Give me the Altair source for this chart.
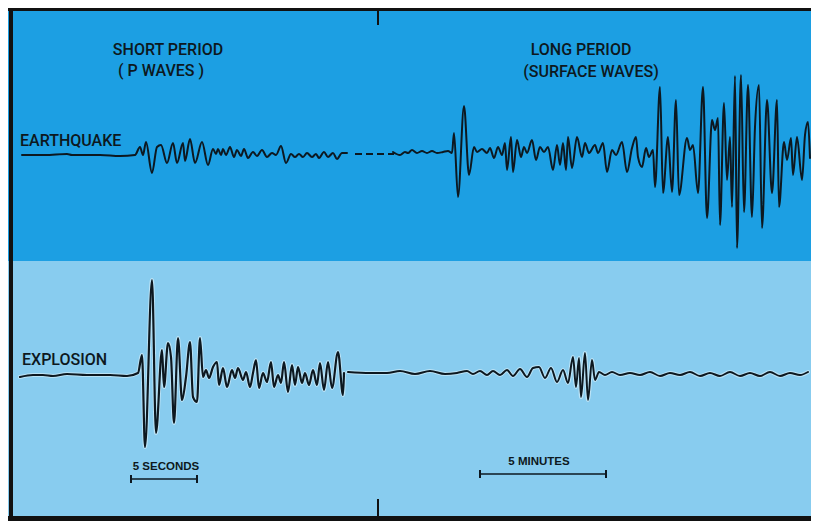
import altair as alt
import pandas as pd

TOP_BLUE = "#1c9fe3"
LOW_BLUE = "#88ccef"
INK = "#0d1820"

eq_short_x = [22, 45, 67, 72, 100, 120, 135, 140, 143, 146, 152, 157, 161, 167, 173, 177, 183,
              185, 190, 195, 202, 208, 213, 216, 218, 221, 223, 226, 230, 234, 237, 241, 244, 248,
              253, 257, 262, 267, 272, 276, 281, 286, 291, 295, 299, 303, 307, 312, 316, 319, 324,
              328, 333, 337, 342, 347]
eq_short_y = [155, 155, 154, 155, 155, 156, 155, 147, 155, 142, 173, 147, 145, 163, 143, 163, 143,
              161, 139, 163, 142, 165, 149, 154, 149, 155, 149, 155, 147, 157, 150, 156, 149, 158,
              152, 156, 150, 157, 153, 155, 146, 163, 154, 157, 154, 157, 153, 157, 154, 158, 152,
              157, 153, 159, 153, 153]

eq_gap_x = [355, 394]
eq_gap_y = [154, 154]

eq_long_x = [393, 400, 405, 408, 412, 417, 422, 427, 432, 437, 443, 448, 452, 454, 458, 464, 469,
             474, 477, 482, 487, 490, 494, 498, 502, 505, 507, 511, 513, 517, 521, 524, 527, 532,
             536, 540, 544, 548, 553, 557, 560, 563, 566, 568, 572, 577, 582, 585, 589, 595, 598,
             603, 607, 612, 616, 622, 627, 632, 636, 638, 642, 646, 649, 653, 655, 660, 663, 668,
             672, 676, 679, 687, 690, 693, 698, 703, 707, 712, 715, 718, 720, 724, 727, 730, 732,
             735, 737, 741, 744, 748, 752, 755, 759, 762, 767, 772, 777, 779, 784, 787, 791, 793,
             797, 802, 805, 808, 810]
eq_long_y = [152, 155, 152, 153, 150, 153, 151, 153, 151, 153, 152, 151, 153, 133, 197, 106, 175,
             147, 152, 149, 153, 148, 158, 147, 155, 143, 170, 137, 172, 140, 157, 147, 153, 140,
             160, 147, 152, 147, 170, 145, 165, 143, 170, 137, 168, 137, 157, 143, 153, 145, 153,
             143, 172, 150, 155, 142, 172, 148, 137, 157, 167, 148, 157, 150, 187, 87, 193, 137,
             192, 100, 195, 138, 150, 145, 193, 87, 218, 120, 130, 118, 225, 103, 180, 137, 207,
             76, 248, 75, 212, 85, 217, 127, 85, 228, 100, 193, 100, 207, 142, 160, 138, 175,
             137, 180, 135, 122, 158]

ex_short_x = [20, 33, 43, 53, 67, 87, 110, 127, 138, 142, 145, 152, 156, 162, 164, 168, 171, 174,
              178, 182, 186, 190, 193, 197, 200, 203, 206, 209, 213, 217, 219, 223, 227, 232, 235,
              238, 243, 246, 250, 253, 256, 259, 263, 267, 271, 274, 278, 281, 284, 288, 292, 295,
              298, 302, 305, 309, 313, 317, 320, 324, 328, 332, 338, 343, 344]
ex_short_y = [377, 375, 375, 376, 374, 375, 375, 376, 373, 355, 447, 280, 433, 350, 387, 343, 357,
              423, 338, 400, 377, 342, 397, 402, 338, 377, 370, 378, 367, 362, 385, 368, 387, 370,
              378, 368, 380, 372, 387, 373, 360, 388, 373, 382, 362, 387, 375, 383, 362, 392, 365,
              385, 367, 383, 373, 385, 370, 385, 363, 390, 362, 388, 352, 395, 373]

ex_long_x = [348, 370, 387, 400, 415, 430, 445, 457, 467, 473, 480, 487, 493, 500, 507, 513, 520,
             527, 533, 539, 545, 551, 557, 563, 568, 573, 576, 579, 581, 585, 588, 592, 595, 599,
             605, 612, 620, 630, 640, 650, 660, 670, 680, 690, 700, 710, 720, 730, 740, 750, 760,
             770, 780, 790, 800, 808]
ex_long_y = [372, 373, 373, 371, 374, 371, 374, 373, 371, 374, 371, 375, 371, 375, 370, 376, 369,
             377, 368, 367, 378, 368, 382, 370, 383, 357, 387, 358, 397, 353, 400, 360, 380, 372,
             375, 372, 375, 373, 375, 372, 376, 373, 375, 372, 376, 373, 376, 372, 376, 373, 376,
             372, 376, 373, 375, 372]

# ---- text ----
head_text = ["SHORT PERIOD", "( P WAVES )", "LONG PERIOD", "(SURFACE WAVES)"]
head_x = [168, 161, 581, 591]
head_y = [50, 71, 50, 72]

trace_names = ["EARTHQUAKE", "EXPLOSION"]
trace_name_x = [20, 22]
trace_name_y = [141, 360]

scale_text = ["5 SECONDS", "5 MINUTES"]
scale_text_x = [166, 539]
scale_text_y = [467, 462]
scale_bar_x0 = [131, 480]
scale_bar_x1 = [197, 606]
scale_bar_y = [479, 474]

RIGHT = 811  # the page leaves 803 px of width after its 8 px margins
xs = alt.Scale(domain=[8, RIGHT], nice=False, zero=False)
ys = alt.Scale(domain=[523, 8], nice=False, zero=False)
X = lambda f: alt.X(f, scale=xs, axis=None)
Y = lambda f: alt.Y(f, scale=ys, axis=None)


def trace(xv, yv):
    return pd.DataFrame({"x": xv, "y": yv, "i": list(range(len(xv)))})


def line(df, color, width, dash=None, opacity=1.0):
    kw = dict(color=color, strokeWidth=width, interpolate="monotone",
              strokeJoin="round", strokeCap="round", opacity=opacity)
    if dash:
        kw["strokeDash"] = dash
        kw["strokeCap"] = "butt"
        kw["interpolate"] = "linear"
    return alt.Chart(df).mark_line(**kw).encode(x=X("x:Q"), y=Y("y:Q"), order="i:Q")


panels = pd.DataFrame({"x0": [8, 8], "x1": [RIGHT, RIGHT], "y0": [8, 261], "y1": [261, 516],
                       "fill": [TOP_BLUE, LOW_BLUE]})
bg = alt.Chart(panels).mark_rect().encode(
    x=X("x0:Q"), x2="x1", y=Y("y0:Q"), y2="y1",
    fill=alt.Fill("fill:N", scale=None))

frame = pd.DataFrame({"x0": [8, 9, 8], "x1": [RIGHT, 13, RIGHT], "y0": [8, 8, 516],
                      "y1": [11, 518, 521]})
frame_l = alt.Chart(frame).mark_rect(color="#111111").encode(
    x=X("x0:Q"), x2="x1", y=Y("y0:Q"), y2="y1")

ticks = pd.DataFrame({"x": [378, 378], "y0": [8, 499], "y1": [25, 516]})
ticks_l = alt.Chart(ticks).mark_rule(color="#111111", strokeWidth=2).encode(
    x=X("x:Q"), y=Y("y0:Q"), y2="y1")

bars = pd.DataFrame({"x0": scale_bar_x0, "x1": scale_bar_x1, "y": scale_bar_y})
bars_l = alt.Chart(bars).mark_rule(color=INK, strokeWidth=1.6).encode(
    x=X("x0:Q"), x2="x1", y=Y("y:Q"))
ends = pd.DataFrame({"x": scale_bar_x0 + scale_bar_x1,
                     "y0": [v - 4 for v in scale_bar_y] * 2,
                     "y1": [v + 4 for v in scale_bar_y] * 2})
ends_l = alt.Chart(ends).mark_rule(color=INK, strokeWidth=2).encode(
    x=X("x:Q"), y=Y("y0:Q"), y2="y1")

heads = pd.DataFrame({"x": head_x, "y": head_y, "t": head_text})
heads_l = alt.Chart(heads).mark_text(font="Roboto", fontSize=16, fontWeight=500, color=INK,
                                     align="center", baseline="middle").encode(
    x=X("x:Q"), y=Y("y:Q"), text="t:N")

names = pd.DataFrame({"x": trace_name_x, "y": trace_name_y, "t": trace_names})
names_l = alt.Chart(names).mark_text(font="Roboto", fontSize=16, fontWeight=500, color=INK,
                                     align="left", baseline="middle").encode(
    x=X("x:Q"), y=Y("y:Q"), text="t:N")

stext = pd.DataFrame({"x": scale_text_x, "y": scale_text_y, "t": scale_text})
stext_l = alt.Chart(stext).mark_text(font="Liberation Sans", fontSize=11.5, fontWeight="bold",
                                     color=INK, align="center", baseline="middle").encode(
    x=X("x:Q"), y=Y("y:Q"), text="t:N")

HALO = "#d2ecf9"
chart = alt.layer(
    bg,
    frame_l,
    ticks_l,
    line(trace(eq_short_x, eq_short_y), INK, 2.0),
    line(trace(eq_gap_x, eq_gap_y), INK, 2.0, dash=[7, 4]),
    line(trace(eq_long_x, eq_long_y), INK, 2.0),
    line(trace(ex_short_x, ex_short_y), HALO, 4.0, opacity=0.7),
    line(trace(ex_long_x, ex_long_y), HALO, 4.0, opacity=0.7),
    line(trace(ex_short_x, ex_short_y), INK, 2.2),
    line(trace(ex_long_x, ex_long_y), INK, 2.0),
    bars_l,
    ends_l,
    heads_l,
    names_l,
    stext_l,
).properties(
    width=RIGHT - 8, height=515, padding=0,
    autosize=alt.AutoSizeParams(type="none"),
    background="white",
).configure_view(stroke=None)

chart.save("out.html", embed_options={"renderer": "svg", "actions": False})
